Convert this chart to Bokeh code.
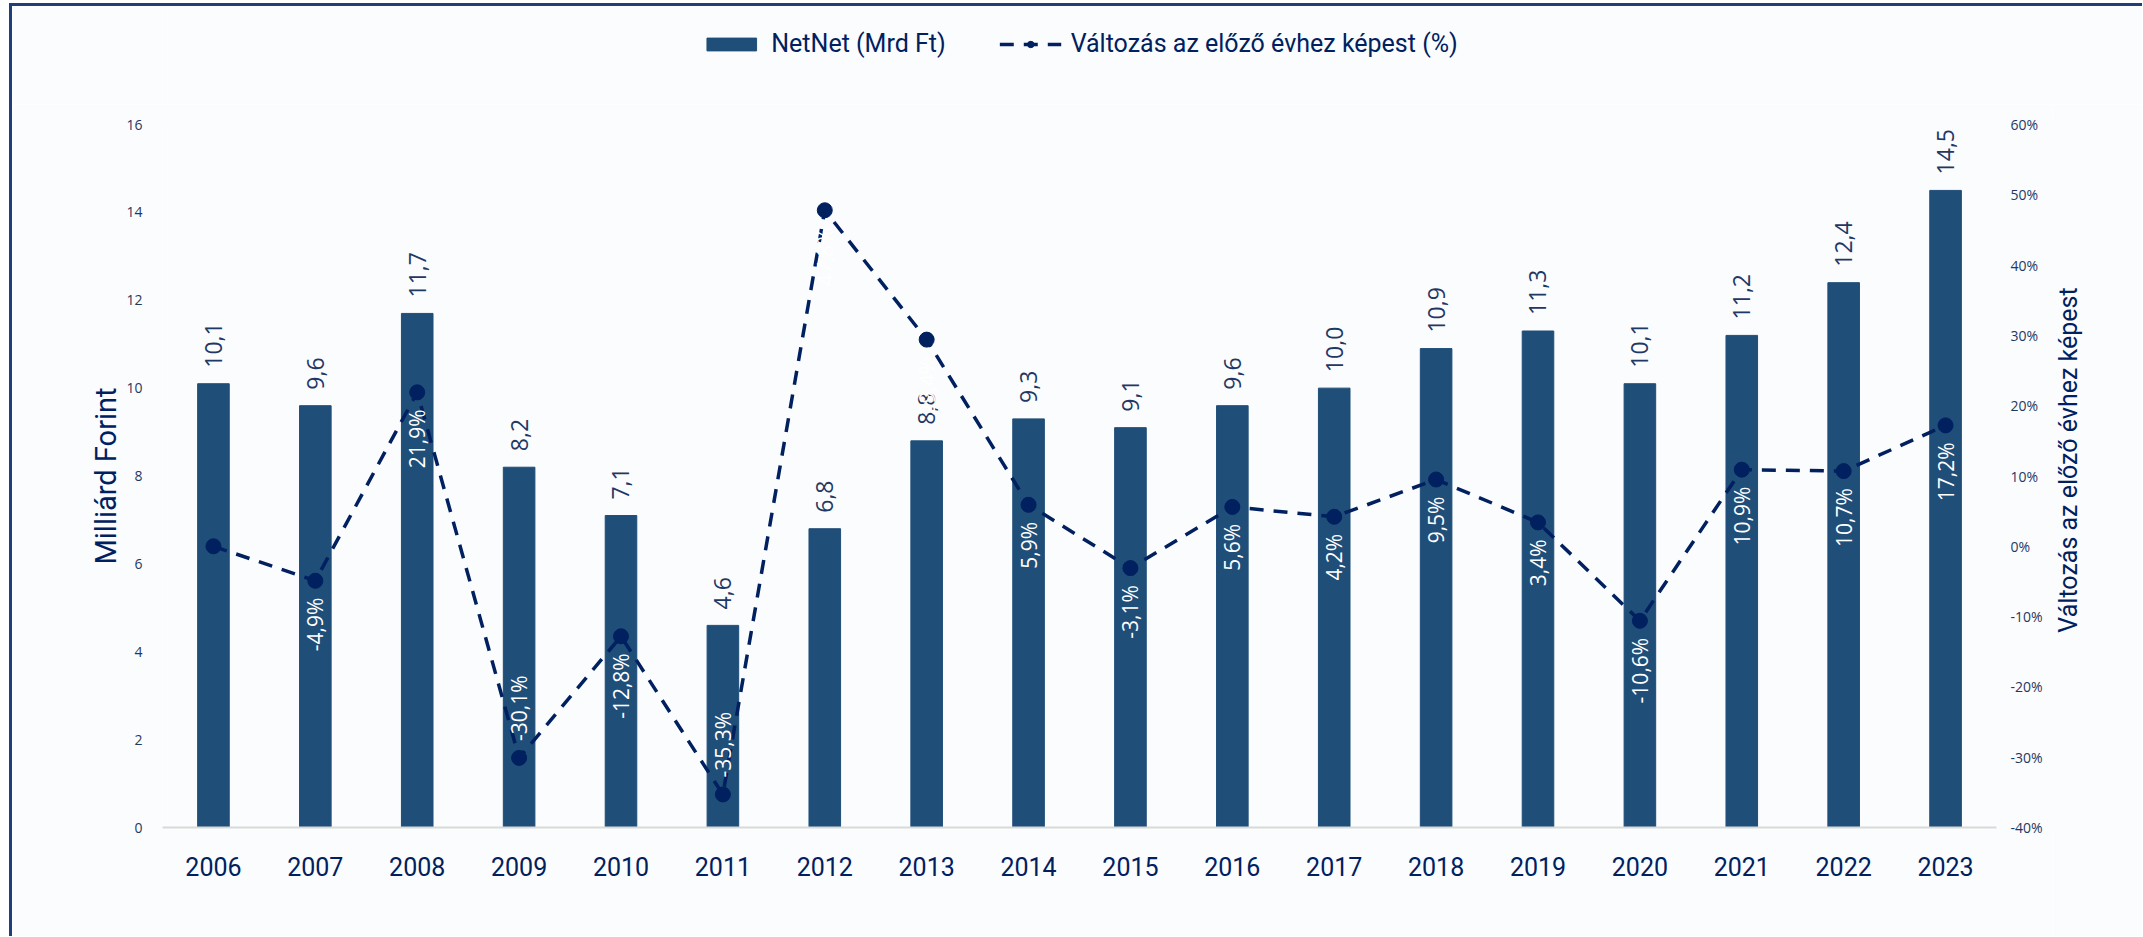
import math
from bokeh.plotting import figure
from bokeh.layouts import column, row
from bokeh.models import (FactorRange, Range1d, LinearAxis, ColumnDataSource, Label,
                          LabelSet, Legend, LegendItem, FixedTicker, PrintfTickFormatter)
from bokeh.core.properties import value
from bokeh.embed import file_html
from bokeh.resources import INLINE

# ---------------- data ----------------
years = ["2006", "2007", "2008", "2009", "2010", "2011", "2012", "2013", "2014",
         "2015", "2016", "2017", "2018", "2019", "2020", "2021", "2022", "2023"]
netnet = [10.1, 9.6, 11.7, 8.2, 7.1, 4.6, 6.8, 8.8, 9.3,
          9.1, 9.6, 10.0, 10.9, 11.3, 10.1, 11.2, 12.4, 14.5]
change = [0.0, -4.9, 21.9, -30.1, -12.8, -35.3, 47.8, 29.4, 5.9,
          -3.1, 5.6, 4.2, 9.5, 3.4, -10.6, 10.9, 10.7, 17.2]
left_ticks = [0, 2, 4, 6, 8, 10, 12, 14, 16]
right_ticks = [-40, -30, -20, -10, 0, 10, 20, 30, 40, 50, 60]

bar_name = "NetNet (Mrd Ft)"
line_name = "Változás az előző évhez képest (%)"
left_title = "Milliárd Forint"
right_title = "Változás az előző évhez képest"

# ---------------- styles ----------------
BAR = "#1F4E79"
NAVY = "#002060"
TXT = "#1F3864"
BG = "#FBFCFD"
COND = "Roboto"
OPEN = "Open Sans"
W = 2130          # total width
LEG_H = 98        # legend strip height
MAIN_H = 832      # main chart height
RW = 90           # right title strip width
PW = W - RW       # main chart width
MB_L, MB_T, MB_B = 150, 20, 109
MB_R_MAIN = 56
MB_R_LEG = MB_R_MAIN + RW


def fmt(v):
    return f"{v:.1f}".replace(".", ",")


src = ColumnDataSource(dict(
    x=years, top=netnet, pct=change,
    lab=[fmt(v) for v in netnet],
))

below_idx = [i for i in range(1, len(years)) if change[i] >= -25]
above_idx = [i for i in range(1, len(years)) if change[i] < -25]
src_below = ColumnDataSource(dict(x=[years[i] for i in below_idx],
                                  y=[change[i] for i in below_idx],
                                  lab=[fmt(change[i]) + "%" for i in below_idx]))
src_above = ColumnDataSource(dict(x=[years[i] for i in above_idx],
                                  y=[change[i] for i in above_idx],
                                  lab=[fmt(change[i]) + "%" for i in above_idx]))


def draw_series(fig):
    b = fig.vbar(x="x", top="top", width=0.31, source=src, fill_color=BAR, line_color=BAR)
    l = fig.line(x="x", y="pct", source=src, y_range_name="pct", line_color=NAVY,
                 line_width=3.5, line_dash="14 10")
    m = fig.scatter(x="x", y="pct", source=src, y_range_name="pct", marker="circle",
                    size=15, fill_color=NAVY, line_color=NAVY)
    return b, l, m


# ================= main chart =================
p = figure(width=PW, height=MAIN_H, x_range=FactorRange(*years), y_range=Range1d(0, 16),
           output_backend="svg", toolbar_location=None,
           min_border_left=MB_L, min_border_right=MB_R_MAIN, min_border_top=MB_T,
           min_border_bottom=MB_B,
           background_fill_color=BG, border_fill_color=BG, outline_line_color=None)
p.extra_y_ranges = {"pct": Range1d(-40, 60)}
p.xgrid.visible = False
p.ygrid.visible = False

# left axis
ya = p.yaxis[0]
ya.ticker = FixedTicker(ticks=left_ticks)
ya.axis_line_color = None
ya.major_tick_line_color = None
ya.minor_tick_line_color = None
ya.major_label_standoff = 14
ya.major_label_text_font = OPEN
ya.major_label_text_font_size = "14px"
ya.major_label_text_color = TXT
ya.axis_label = left_title
ya.axis_label_text_font = COND
ya.axis_label_text_font_size = "29px"
ya.axis_label_text_font_style = "normal"
ya.axis_label_text_color = NAVY
ya.axis_label_standoff = 0

# x axis
xa = p.xaxis[0]
xa.axis_line_color = "#D9D9D9"
xa.axis_line_width = 2
xa.major_tick_line_color = None
xa.minor_tick_line_color = None
xa.major_label_standoff = 23
xa.major_label_text_font = COND
xa.major_label_text_font_size = "25px"
xa.major_label_text_color = NAVY

# right axis (tick labels only; its title is drawn in the strip at the right)
ra = LinearAxis(y_range_name="pct", ticker=FixedTicker(ticks=right_ticks),
                formatter=PrintfTickFormatter(format="%d%%"))
ra.axis_line_color = None
ra.major_tick_line_color = None
ra.minor_tick_line_color = None
ra.major_label_standoff = 8
ra.major_label_text_font = OPEN
ra.major_label_text_font_size = "14px"
ra.major_label_text_color = TXT
p.add_layout(ra, "right")

bars, ln, mk = draw_series(p)

# bar value labels
p.add_layout(LabelSet(x="x", y="top", text="lab", source=src, angle=math.pi / 2,
                      text_align="left", text_baseline="middle", y_offset=16,
                      text_font=value(OPEN), text_font_size="23px", text_color=TXT))

# percent labels
p.add_layout(LabelSet(x="x", y="y", text="lab", source=src_below, y_range_name="pct",
                      angle=math.pi / 2, text_align="right", text_baseline="middle",
                      y_offset=-17, text_font=value(OPEN), text_font_size="21px",
                      text_color="white"))
p.add_layout(LabelSet(x="x", y="y", text="lab", source=src_above, y_range_name="pct",
                      angle=math.pi / 2, text_align="left", text_baseline="middle",
                      y_offset=17, text_font=value(OPEN), text_font_size="21px",
                      text_color="white"))

# ================= right title strip =================
rf = figure(width=RW, height=MAIN_H, x_range=Range1d(0, 1), y_range=Range1d(0, 1),
            output_backend="svg", toolbar_location=None, x_axis_type=None, y_axis_type=None,
            min_border_left=0, min_border_right=0, min_border_top=0, min_border_bottom=0,
            background_fill_color=BG, border_fill_color=BG, outline_line_color=None)
rf.xgrid.visible = False
rf.ygrid.visible = False
frame_mid = MAIN_H - MB_T - (MAIN_H - MB_T - MB_B) / 2
rf.add_layout(Label(x=16, y=MAIN_H - frame_mid - 4, x_units="screen", y_units="screen",
                    text=right_title, angle=math.pi / 2, text_align="center",
                    text_baseline="middle", text_font=COND, text_font_size="25px",
                    text_color=NAVY))

# ================= legend strip =================
lf = figure(width=W, height=LEG_H, x_range=FactorRange(*years), y_range=Range1d(100, 101),
            output_backend="svg", toolbar_location=None, x_axis_type=None, y_axis_type=None,
            min_border_left=MB_L, min_border_right=MB_R_LEG, min_border_top=0,
            min_border_bottom=0,
            background_fill_color=BG, border_fill_color=BG, outline_line_color=None)
lf.extra_y_ranges = {"pct": Range1d(1000, 1001)}
lf.xgrid.visible = False
lf.ygrid.visible = False
lb, ll, lm = draw_series(lf)

legend = Legend(items=[LegendItem(label=bar_name, renderers=[lb]),
                       LegendItem(label=line_name, renderers=[ll, lm])],
                orientation="horizontal", location="top_center",
                glyph_width=62, glyph_height=16, label_standoff=9, spacing=54,
                padding=5, margin=18, background_fill_alpha=0, border_line_alpha=0,
                label_text_font=COND, label_text_font_size="25px", label_text_color=NAVY)
lf.add_layout(legend, "center")

page = column(lf, row(p, rf, spacing=0), spacing=0)
page.styles = {"margin-left": "9px", "margin-top": "3px",
               "border-left": "3px solid #1F3E7C", "border-top": "3px solid #1F3E7C"}

open("out.html", "w").write(file_html(page, INLINE))
